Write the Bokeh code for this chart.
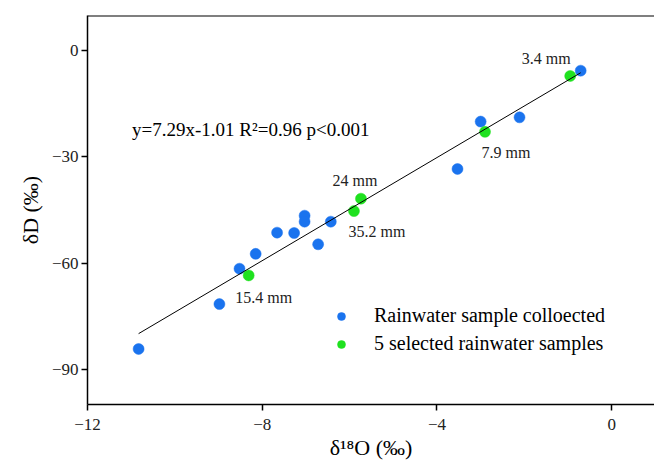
from bokeh.plotting import figure
from bokeh.models import ColumnDataSource, Label, Span, FixedTicker, Legend, LegendItem
from bokeh.core.properties import value
from bokeh.embed import file_html
from bokeh.resources import INLINE

# Data
blue_x = [-0.71, -2.11, -3.00, -3.53, -6.43, -7.03, -7.03, -7.27, -7.66, -6.72, -8.15, -8.52, -8.98, -10.83]
blue_y = [-5.6, -18.8, -20.0, -33.4, -48.3, -46.6, -48.3, -51.5, -51.4, -54.7, -57.4, -61.6, -71.6, -84.3]
green_x = [-0.95, -2.90, -5.74, -5.90, -8.31]
green_y = [-7.1, -22.9, -41.8, -45.3, -63.5]
green_labels = ["3.4 mm", "7.9 mm", "24 mm", "35.2 mm", "15.4 mm"]
slope, intercept = 7.29, -1.01
x_ticks = [-12, -8, -4, 0]
y_ticks = [0, -30, -60, -90]

FONT = "Liberation Serif, Times New Roman, serif"
BLUE = "#1a73ee"
GREEN = "#1fe11f"

p = figure(width=654, height=464, x_range=(-12, 0.98), y_range=(-100, 10),
           output_backend="svg", toolbar_location=None,
           min_border_left=87, min_border_top=15, min_border_bottom=60, min_border_right=0)
p.outline_line_color = None
p.background_fill_color = "white"
p.border_fill_color = "white"
p.grid.visible = False

for ax in (p.xaxis[0], p.yaxis[0]):
    ax.axis_line_width = 1.5
    ax.axis_line_color = "black"
    ax.major_tick_line_width = 1.5
    ax.major_tick_out = 6
    ax.major_tick_in = 0
    ax.minor_tick_line_color = None
    ax.major_label_text_font = FONT
    ax.major_label_text_font_size = "17px"
    ax.major_label_text_color = "#222222"
    ax.axis_label_text_font = FONT
    ax.axis_label_text_font_size = "22px"
    ax.axis_label_text_font_style = "normal"
    ax.axis_label_text_color = "black"

p.xaxis.ticker = FixedTicker(ticks=x_ticks)
p.yaxis.ticker = FixedTicker(ticks=y_ticks)
p.xaxis.major_label_overrides = {t: str(t).replace("-", "\u2212") for t in x_ticks}
p.yaxis.major_label_overrides = {t: str(t).replace("-", "\u2212") for t in y_ticks}
p.xaxis.axis_label = "\u03b4\u00b9\u2078O (\u2030)"
p.yaxis.axis_label = "\u03b4D (\u2030)"
p.xaxis.major_label_standoff = 8
p.xaxis.axis_label_standoff = 2
p.yaxis.major_label_standoff = 3
p.yaxis.axis_label_standoff = 6

# top border
p.add_layout(Span(location=10, dimension="width", line_color="black", line_width=2))

# regression line over full data extent
all_x = blue_x + green_x
lx = [min(all_x), max(all_x)]
ly = [slope * v + intercept for v in lx]

bsrc = ColumnDataSource(dict(x=blue_x, y=blue_y))
gsrc = ColumnDataSource(dict(x=green_x, y=green_y, t=green_labels,
                             dx=[-24, 21, -6, 23, 15], dy=[-17, 21, -18, 20, 22]))

rb = p.scatter("x", "y", source=bsrc, size=11, fill_color=BLUE, line_color=BLUE, line_width=0.5)
rg = p.scatter("x", "y", source=gsrc, size=11, fill_color=GREEN, line_color=GREEN, line_width=0.5)
p.line(lx, ly, line_color="black", line_width=1)

p.text("x", "y", text="t", source=gsrc, x_offset="dx", y_offset="dy",
       text_align="center", text_baseline="middle",
       text_font=value(FONT), text_font_size="16px", text_color="#222222")

p.add_layout(Label(x=-10.98, y=-22.1, text="y=7.29x-1.01 R\u00b2=0.96 p<0.001",
                   text_font=FONT, text_font_size="19px", text_baseline="middle",
                   text_color="black"))

legend = Legend(items=[LegendItem(label="Rainwater sample colloected", renderers=[rb]),
                       LegendItem(label="5 selected rainwater samples", renderers=[rg])],
                location=(244, 49), padding=0, margin=0, spacing=5,
                glyph_width=20, glyph_height=20, label_standoff=23,
                label_text_font=FONT, label_text_font_size="20px",
                label_text_color="black",
                border_line_color=None, background_fill_alpha=0)
p.add_layout(legend)

open("out.html", "w").write(file_html(p, INLINE))
